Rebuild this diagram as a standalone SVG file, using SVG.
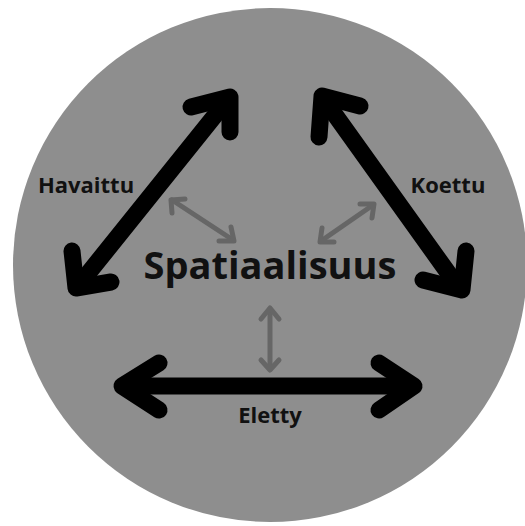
<svg xmlns="http://www.w3.org/2000/svg" width="525" height="526" viewBox="0 0 525 526">
<style>
.big{fill:none;stroke:#000;stroke-width:17;stroke-linecap:round;stroke-linejoin:round}
.small{fill:none;stroke:#666;stroke-width:5;stroke-linecap:round;stroke-linejoin:round}
.lbl{font-family:"Open Sans","Noto Sans",sans-serif;font-weight:bold;fill:#111}
</style>
<rect width="525" height="526" fill="#fff"/>
<circle id="bg" cx="270" cy="265" r="257" fill="#8e8e8e"/>
<g id="connectors">
  <g id="havaittu-arrow">
    <line class="big" x1="78" y1="286" x2="229" y2="98"/>
    <polyline class="big" points="191,107 230,97 230,132"/>
    <polyline class="big" points="72,251 76,288 111,282"/>
  </g>
  <g id="koettu-arrow">
    <line class="big" x1="323" y1="98" x2="459" y2="288"/>
    <polyline class="big" points="360,106 322,96 319,137"/>
    <polyline class="big" points="466,251 462,290 423,280"/>
  </g>
  <g id="eletty-arrow">
    <line class="big" x1="124" y1="386" x2="412" y2="386"/>
    <polyline class="big" points="159,363 122,386 159,410"/>
    <polyline class="big" points="379,363 414,386 379,410"/>
  </g>
  <g id="gray-left">
    <line class="small" x1="172" y1="200" x2="233" y2="240"/>
    <polyline class="small" points="172,213 171,200 185,199"/>
    <polyline class="small" points="219,241 234,241 231,227"/>
  </g>
  <g id="gray-right">
    <line class="small" x1="373" y1="205" x2="321" y2="241"/>
    <polyline class="small" points="360,204 374,204 372,218"/>
    <polyline class="small" points="334,242 320,242 322,228"/>
  </g>
  <g id="gray-vertical">
    <line class="small" x1="270" y1="309" x2="270" y2="369"/>
    <polyline class="small" points="261,319 270,308 279,319"/>
    <polyline class="small" points="261,360 270,370 279,360"/>
  </g>
</g>
<g id="node-center"><text class="lbl" x="270" y="279" font-size="38" text-anchor="middle">Spatiaalisuus</text></g>
<g id="node-havaittu"><text class="lbl" x="86" y="193" font-size="22" text-anchor="middle">Havaittu</text></g>
<g id="node-koettu"><text class="lbl" x="448" y="193" font-size="22" text-anchor="middle">Koettu</text></g>
<g id="node-eletty"><text class="lbl" x="270" y="423" font-size="22" text-anchor="middle">Eletty</text></g>
</svg>
